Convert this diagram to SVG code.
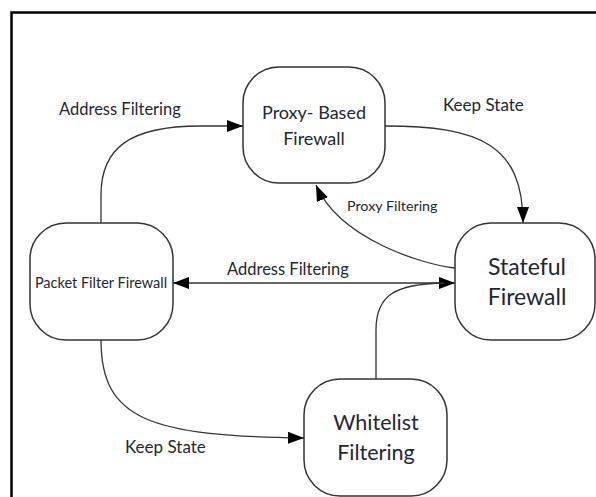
<svg xmlns="http://www.w3.org/2000/svg" width="596" height="497" viewBox="0 0 596 497">
<style>
.frame{fill:none;stroke:#000;stroke-width:2.5}
.box{fill:#fff;stroke:#333;stroke-width:1.5}
.edge{fill:none;stroke:#333;stroke-width:1.3}
.t{font-family:Lato,"Liberation Sans",sans-serif;fill:#1e2733;text-anchor:middle}
.lbl{font-family:Lato,"Liberation Sans",sans-serif;fill:#1e2733}
</style>
<defs>
<marker id="ah" markerUnits="userSpaceOnUse" markerWidth="17" markerHeight="12" viewBox="0 0 17 12" refX="16" refY="6" orient="auto-start-reverse">
<path d="M0,0 L16,6 L0,12 z" fill="#000"/>
</marker>
</defs>
<rect width="596" height="497" fill="#fff"/>
<rect class="frame" x="11.5" y="12.5" width="600" height="500"/>
<g id="connectors">
<path class="edge" d="M101,223 L101,195 C101,148 130,126 200,126 L243,126" marker-end="url(#ah)"/>
<path class="edge" d="M385,126 C480,126 523,145 523,223" marker-end="url(#ah)"/>
<path class="edge" d="M455,268 C425,265 340,240 316,185" marker-end="url(#ah)"/>
<path class="edge" d="M173,283 L455,283" marker-start="url(#ah)" marker-end="url(#ah)"/>
<path class="edge" d="M376,379 L376,330 C376,295 395,284 444,283"/>
<path class="edge" d="M101,340 C101,420 150,436 304,438" marker-end="url(#ah)"/>
<text class="lbl" x="59" y="115" font-size="16.5">Address Filtering</text>
<text class="lbl" x="443" y="111" font-size="17">Keep State</text>
<text class="lbl" x="347" y="211" font-size="14.3">Proxy Filtering</text>
<text class="lbl" x="227" y="275" font-size="16.5">Address Filtering</text>
<text class="lbl" x="125" y="453" font-size="17">Keep State</text>
</g>
<g id="proxy">
<rect class="box" x="243" y="67" width="142" height="116" rx="36"/>
<text class="t" x="314" y="119" font-size="18">Proxy- Based</text>
<text class="t" x="314" y="145" font-size="18">Firewall</text>
</g>
<g id="packet">
<rect class="box" x="30" y="223" width="143" height="117" rx="36"/>
<text class="t" x="101" y="288" font-size="14.5">Packet Filter Firewall</text>
</g>
<g id="stateful">
<rect class="box" x="455" y="223" width="140" height="117" rx="36"/>
<text class="t" x="527" y="275" font-size="23">Stateful</text>
<text class="t" x="527" y="305" font-size="23">Firewall</text>
</g>
<g id="whitelist">
<rect class="box" x="304" y="379" width="143" height="117" rx="36"/>
<text class="t" x="376" y="430" font-size="21.5">Whitelist</text>
<text class="t" x="376" y="460" font-size="21.5">Filtering</text>
</g>
</svg>
